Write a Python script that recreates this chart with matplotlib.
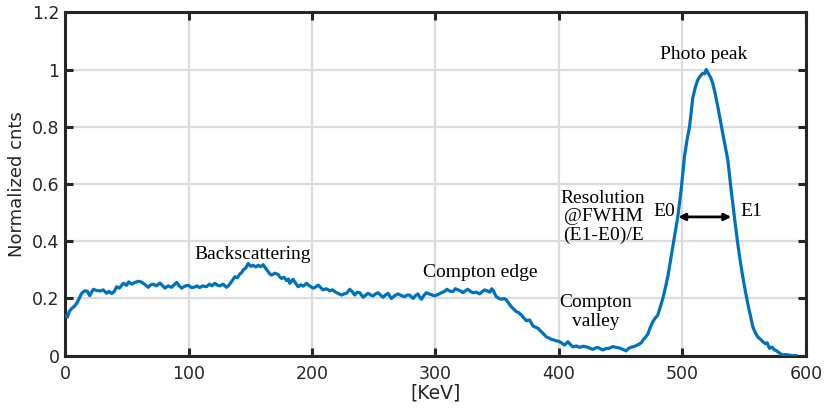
import numpy as np
import matplotlib
matplotlib.use("Agg")
import matplotlib.pyplot as plt

# spectrum read out per energy bin
energy_kev = [
    0.5, 2, 3.5, 5.4, 7.5, 9.5, 11.5, 13.5, 16, 18, 20, 21.5, 23, 25.5, 28.3, 31,
    33.7, 35.5, 37.8, 40, 41.8, 44, 47.2, 49.9, 51.5, 54, 56.5, 59.3, 61.5, 63.4,
    65.5, 67.4, 69.5, 71.5, 74, 76.9, 79, 80.9, 83.5, 86.3, 88.5, 90.4, 92.5, 94.4,
    97, 99.8, 102.5, 105, 107, 109, 111.5, 114.6, 117, 119, 121.4, 123.5, 125.4,
    128, 130.8, 132.5, 134.9, 137.5, 139.5, 141.6, 143, 144.3, 146.5, 148.3, 150.5,
    152.3, 154.5, 156.4, 158.5, 160.4, 162.5, 164.5, 166, 167.2, 170, 172.6, 174,
    175.3, 177.5, 179.4, 181, 182, 184.7, 186.5, 188.8, 191, 193, 195.5, 198,
    200.9, 203, 205, 207, 209, 211.5, 214.4, 216.5, 218.4, 221, 223.9, 226, 227.9,
    230.6, 232.5, 234.6, 236.5, 238.7, 241.4, 243.5, 245.4, 247.5, 249.4, 251.5,
    253.5, 255.5, 257.5, 259.5, 261.6, 263, 264.3, 267, 269.7, 272.5, 275, 277,
    279.1, 281.8, 283.8, 285.8, 287, 288.6, 290.5, 292.6, 296, 299.4, 302, 304.8,
    307, 309.3, 311.5, 314.2, 316, 318.2, 320.5, 322.3, 324.5, 326.3, 328.5, 330.3,
    333, 335.8, 337.8, 339.8, 342, 343.9, 345.5, 346.5, 348, 349.3, 351.5, 353.3,
    355.5, 357.4, 359.5, 361.4, 363.5, 365.5, 367.5, 369.5, 371.5, 373.6, 376.2,
    378.9, 381, 382.9, 385.7, 387.5, 389.7, 391.8, 393.8, 395.8, 397.8, 400, 401.9,
    404.5, 407.2, 409, 411.3, 414, 416.7, 419.5, 422.1, 424.5, 427.4, 429.5, 431.5,
    433.5, 435.5, 438, 440.9, 443.5, 446.4, 449, 451.7, 454.4, 456.5, 458.5, 460.5,
    462.5, 464.5, 466.6, 468, 469.3, 471.9, 474, 476, 478, 480, 482, 484.1, 486,
    488.1, 490, 492.2, 494.2, 496.2, 498.9, 501.6, 503.5, 505.7, 508.3, 510.5,
    512.4, 514.5, 516.4, 518, 519.2, 520.5, 521.8, 523, 524.5, 526.5, 528.6, 530.5,
    532.6, 534.7, 536.7, 539.4, 542, 544.7, 546.8, 548.8, 550.8, 552.8, 555, 556.9,
    559, 560.9, 563, 565, 567, 568.5, 570.4, 572.5, 574.4, 576, 577, 579, 581.2,
    583.5, 586.6, 588.5, 590.6, 592,
]
counts = [
    0.14, 0.135, 0.155, 0.165, 0.172, 0.183, 0.20, 0.218, 0.227, 0.225, 0.21, 0.222,
    0.232, 0.228, 0.226, 0.23, 0.218, 0.225, 0.217, 0.225, 0.241, 0.236, 0.253,
    0.246, 0.258, 0.25, 0.256, 0.26, 0.258, 0.253, 0.246, 0.239, 0.248, 0.25, 0.244,
    0.254, 0.245, 0.236, 0.244, 0.239, 0.248, 0.256, 0.244, 0.236, 0.243, 0.246,
    0.238, 0.24, 0.244, 0.238, 0.244, 0.241, 0.25, 0.244, 0.253, 0.246, 0.244, 0.25,
    0.239, 0.245, 0.259, 0.276, 0.272, 0.286, 0.29, 0.3, 0.307, 0.322, 0.312, 0.316,
    0.31, 0.316, 0.311, 0.318, 0.305, 0.294, 0.285, 0.282, 0.288, 0.284, 0.275, 0.27,
    0.274, 0.262, 0.268, 0.253, 0.267, 0.255, 0.241, 0.248, 0.243, 0.253, 0.244,
    0.236, 0.24, 0.247, 0.238, 0.23, 0.234, 0.227, 0.23, 0.224, 0.218, 0.212, 0.216,
    0.218, 0.232, 0.224, 0.212, 0.222, 0.22, 0.204, 0.212, 0.218, 0.212, 0.209,
    0.216, 0.22, 0.212, 0.204, 0.212, 0.218, 0.208, 0.2, 0.21, 0.216, 0.21, 0.206,
    0.212, 0.212, 0.2, 0.21, 0.216, 0.206, 0.197, 0.21, 0.22, 0.214, 0.209, 0.214,
    0.22, 0.224, 0.232, 0.226, 0.224, 0.234, 0.23, 0.226, 0.22, 0.228, 0.232, 0.224,
    0.22, 0.222, 0.216, 0.224, 0.23, 0.226, 0.222, 0.234, 0.23, 0.216, 0.206, 0.2,
    0.197, 0.2, 0.195, 0.182, 0.171, 0.162, 0.154, 0.15, 0.142, 0.132, 0.122, 0.125,
    0.104, 0.1, 0.096, 0.084, 0.076, 0.066, 0.062, 0.057, 0.055, 0.052, 0.05, 0.045,
    0.037, 0.049, 0.04, 0.031, 0.034, 0.029, 0.033, 0.031, 0.027, 0.022, 0.027,
    0.029, 0.024, 0.02, 0.025, 0.026, 0.032, 0.029, 0.027, 0.022, 0.017, 0.026, 0.03,
    0.032, 0.035, 0.04, 0.045, 0.055, 0.061, 0.075, 0.1, 0.119, 0.132, 0.142, 0.17,
    0.2, 0.235, 0.276, 0.325, 0.381, 0.434, 0.486, 0.579, 0.696, 0.75, 0.8, 0.9,
    0.94, 0.964, 0.978, 0.987, 0.985, 1.0, 0.99, 0.98, 0.97, 0.952, 0.915, 0.87,
    0.825, 0.777, 0.73, 0.684, 0.579, 0.486, 0.393, 0.33, 0.276, 0.228, 0.183, 0.14,
    0.101, 0.08, 0.066, 0.058, 0.049, 0.042, 0.045, 0.026, 0.03, 0.02, 0.018, 0.014,
    0.008, 0.002, 0.004, 0.002, 0.0, 0.001, 0.0,
]

# FWHM marker
e0, e1, half_level = 496.5, 539.5, 0.485

x_ticks = [0, 100, 200, 300, 400, 500, 600]
y_ticks = [0, 0.2, 0.4, 0.6, 0.8, 1.0, 1.2]
y_tick_labels = ["0", "0.2", "0.4", "0.6", "0.8", "1", "1.2"]

axis_color = "#262626"
serif = ["Liberation Serif", "DejaVu Serif"]

fig = plt.figure(figsize=(8.27, 4.17), dpi=100)
ax = fig.add_axes([0.0786, 0.147, 0.896, 0.8235])

ax.plot(energy_kev, counts, color="#0072BD", lw=2.3, zorder=3)

ax.set_xlim(0, 600)
ax.set_ylim(0, 1.2)
ax.set_xticks(x_ticks)
ax.set_yticks(y_ticks)
ax.set_yticklabels(y_tick_labels)
ax.grid(True, color="#dcdcdc", lw=1.6, zorder=0)
ax.set_axisbelow(True)

for sp in ax.spines.values():
    sp.set_color(axis_color)
    sp.set_linewidth(2.2)
ax.tick_params(direction="in", length=6, width=2.2, top=True, right=True,
               colors=axis_color, labelsize=12.5, pad=4)
ax.tick_params(axis="x", pad=7)

ax.set_xlabel("[KeV]", fontsize=13.5, color=axis_color, labelpad=0)
ax.set_ylabel("Normalized cnts", fontsize=13, color=axis_color, labelpad=4)

# peak and region labels
ax.text(152, 0.355, "Backscattering", family=serif, fontsize=14, ha="center", va="center")
ax.text(336.6, 0.29, "Compton edge", family=serif, fontsize=14, ha="center", va="center")
ax.text(429.6, 0.152, "Compton\nvalley", family=serif, fontsize=14, ha="center",
        va="center", linespacing=1.15)
ax.text(435.7, 0.485, "Resolution\n@FWHM\n(E1-E0)/E", family=serif, fontsize=14,
        ha="center", va="center", linespacing=1.1)
ax.text(517, 1.054, "Photo peak", family=serif, fontsize=14, ha="center", va="center")
ax.text(485, 0.503, "E0", family=serif, fontsize=14, ha="center", va="center")
ax.text(555.8, 0.503, "E1", family=serif, fontsize=14, ha="center", va="center")

ax.annotate("", xy=(e0, half_level), xytext=(e1, half_level),
            arrowprops=dict(arrowstyle="<|-|>", color="black", lw=2,
                            mutation_scale=10, shrinkA=0, shrinkB=0), zorder=4)

fig.savefig("out.png", dpi=100)
